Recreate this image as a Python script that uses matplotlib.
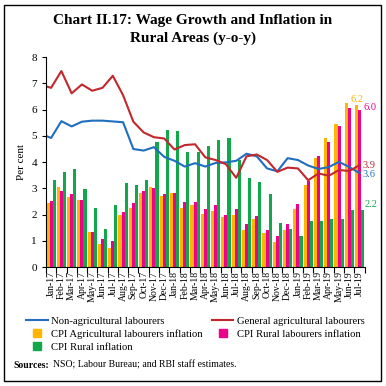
import numpy as np
import matplotlib
matplotlib.use("Agg")
import matplotlib.pyplot as plt
from matplotlib.lines import Line2D
from matplotlib.patches import Rectangle

plt.rcParams['font.family'] = ['Liberation Serif', 'DejaVu Serif']

# months on the x axis
months = ['Jan-17', 'Feb-17', 'Mar-17', 'Apr-17', 'May-17', 'Jun-17', 'Jul-17', 'Aug-17',
          'Sep-17', 'Oct-17', 'Nov-17', 'Dec-17', 'Jan-18', 'Feb-18', 'Mar-18', 'Apr-18',
          'May-18', 'Jun-18', 'Jul-18', 'Aug-18', 'Sep-18', 'Oct-18', 'Nov-18', 'Dec-18',
          'Jan-19', 'Feb-19', 'Mar-19', 'Apr-19', 'May-19', 'Jun-19', 'Jul-19']

# bars (per cent)
cpi_al = [2.43, 3.04, 2.68, 2.55, 1.35, 0.88, 0.74, 1.98, 2.26, 2.83, 3.04, 2.70, 2.84, 2.26,
          2.38, 2.02, 2.14, 1.92, 1.99, 1.43, 1.85, 1.31, 0.94, 1.41, 2.21, 3.12, 4.14, 4.93,
          5.47, 6.26, 6.17]
cpi_rl = [2.53, 2.91, 2.78, 2.55, 1.35, 1.09, 0.99, 2.11, 2.46, 2.91, 3.00, 2.78, 2.81, 2.49,
          2.49, 2.22, 2.35, 1.99, 2.21, 1.64, 1.95, 1.41, 1.18, 1.64, 2.40, 3.29, 4.23, 4.77,
          5.38, 6.07, 5.98]
cpi_rural = [3.31, 3.63, 3.72, 2.98, 2.24, 1.47, 2.36, 3.19, 3.12, 3.31, 4.75, 5.22, 5.19, 4.39,
             4.39, 4.62, 4.84, 4.90, 4.08, 3.38, 3.25, 2.78, 1.69, 1.45, 1.18, 1.75, 1.75, 1.83,
             1.83, 2.17, 2.17]

# wage growth lines, first value is Dec-16 (cut by the axis edge)
non_agri = [5.08, 4.92, 5.56, 5.36, 5.54, 5.58, 5.58, 5.55, 5.52, 4.50, 4.44, 4.57, 4.20, 4.05,
            3.83, 3.96, 3.83, 3.97, 3.99, 4.05, 4.32, 4.22, 3.76, 3.65, 4.15, 4.08, 3.87, 3.74,
            3.81, 4.01, 3.81, 3.58]
gen_agri = [6.95, 6.83, 7.47, 6.62, 6.96, 6.72, 6.83, 7.29, 6.55, 5.54, 5.13, 4.95, 4.90, 4.48,
            4.65, 4.68, 4.18, 4.08, 3.92, 3.40, 4.22, 4.29, 4.08, 3.63, 3.79, 3.76, 3.31, 3.57,
            3.48, 3.70, 3.66, 3.89]

c_blue = '#1F6EBF'
c_red = '#C1272D'
c_orange = '#FFB400'
c_mag = '#EC008C'
c_green = '#10A84A'

fig = plt.figure(figsize=(3.86, 3.86), dpi=100)
ax = fig.add_axes([0.119, 0.308, 0.826, 0.544])

x = np.arange(len(months))
w = 0.3
ax.bar(x - w, cpi_al, w, color=c_orange, linewidth=0)
ax.bar(x, cpi_rl, w, color=c_mag, linewidth=0)
ax.bar(x + w, cpi_rural, w, color=c_green, linewidth=0)

xl = np.arange(-1, len(months))
ax.plot(xl, non_agri, color=c_blue, lw=1.5)
ax.plot(xl, gen_agri, color=c_red, lw=1.5)

ax.set_xlim(-0.5, len(months) - 0.5)
ax.set_ylim(0, 8)
ax.set_yticks(range(0, 9))
ax.set_xticks(x)
ax.set_xticklabels(months, rotation=90, fontsize=7)
ax.set_xticks(np.arange(-0.5, len(months)), minor=True)
ax.tick_params(axis='x', which='major', length=0, pad=3)
ax.tick_params(axis='x', which='minor', length=4, width=0.8)
ax.tick_params(axis='y', labelsize=8, length=3, width=0.8)
ax.spines['top'].set_visible(False)
ax.spines['right'].set_visible(False)
ax.set_ylabel('Per cent', fontsize=8, labelpad=4)

# end labels
ax.annotate(f'{cpi_al[-1]:.1f}', (x[-1] - w, cpi_al[-1]), xytext=(0, 1), textcoords='offset points',
            ha='center', va='bottom', color=c_orange, fontsize=7.5)
ax.annotate(f'{cpi_rl[-1]:.1f}', (x[-1], cpi_rl[-1]), xytext=(2.5, 2), textcoords='offset points',
            ha='left', va='center', color=c_mag, fontsize=7.5)
ax.annotate(f'{gen_agri[-1]:.1f}', (xl[-1], gen_agri[-1]), xytext=(2, 0), textcoords='offset points',
            ha='left', va='center', color=c_red, fontsize=7.5)
ax.annotate(f'{non_agri[-1]:.1f}', (xl[-1], non_agri[-1]), xytext=(2, -1), textcoords='offset points',
            ha='left', va='center', color=c_blue, fontsize=7.5)
ax.annotate(f'{cpi_rural[-1]:.1f}', (x[-1] + w, cpi_rural[-1]), xytext=(1, 4), textcoords='offset points',
            ha='left', va='center', color=c_green, fontsize=7.5)
for t in ax.texts:
    t.set_clip_on(False)

fig.text(0.5, 0.948, 'Chart II.17: Wage Growth and Inflation in', ha='center', va='center',
         fontsize=11, fontweight='bold')
fig.text(0.5, 0.902, 'Rural Areas (y-o-y)', ha='center', va='center',
         fontsize=11, fontweight='bold')

handles = [
    Line2D([], [], color=c_blue, lw=1.5),
    Line2D([], [], marker='s', ls='none', color=c_orange, markersize=6),
    Line2D([], [], marker='s', ls='none', color=c_green, markersize=6),
    Line2D([], [], color=c_red, lw=1.5),
    Line2D([], [], marker='s', ls='none', color=c_mag, markersize=6),
]
labels = ['Non-agricultural labourers', 'CPI Agricultural labourers inflation', 'CPI Rural inflation',
          'General agricultural labourers', 'CPI Rural labourers inflation']
fig.legend(handles, labels, ncol=2, loc='upper left', bbox_to_anchor=(0.068, 0.18),
           frameon=False, fontsize=7.7, handlelength=2.0, handletextpad=0.3,
           columnspacing=0.9, labelspacing=0.3, borderaxespad=0, borderpad=0)

# source note: bold lead-in, then the rest placed right after it
src = fig.text(0.036, 0.054, 'Sources:', fontsize=7, fontweight='bold', va='center')
ax.annotate('NSO; Labour Bureau; and RBI staff estimates.', xy=(1, 0.5), xycoords=src,
            xytext=(2.5, 0), textcoords='offset points', ha='left', va='center', fontsize=7)

# outer frame
fig.patches.append(Rectangle((0.0104, 0.013), 0.977, 0.974, transform=fig.transFigure,
                             fill=False, edgecolor='black', lw=1))

fig.savefig('out.png', dpi=100)
